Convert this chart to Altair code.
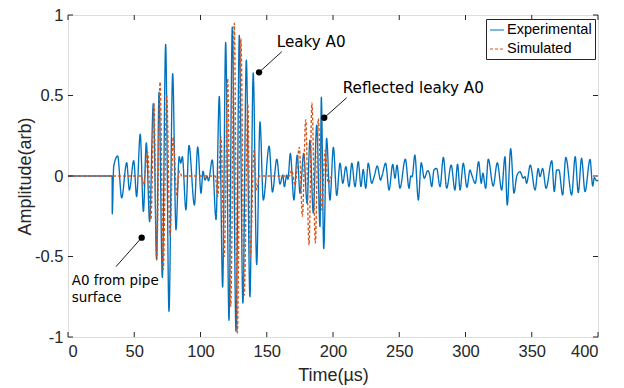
import altair as alt
import pandas as pd

# ---------------- data ----------------
exp_t = [0, 33.3, 33.4, 34.5, 37.5, 40.5, 44.3, 46.3, 49.6, 51.8, 54.5, 56.9, 59.1, 61.6,
         64.4, 66.9, 68.7, 71.2, 73.7, 76.2, 79.0, 81.5, 83.9, 85.1, 86.3, 89.0, 91.3,
         95.4, 97.9, 100.4, 101.9, 103.4, 104.9, 106.0, 108.9, 111.7, 114.2, 116.7, 119.0,
         121.5, 124.0, 126.8, 129.3, 132.0, 134.6, 137.3, 139.8, 142.4, 144.9, 147.4,
         151.8, 154.3, 157.6, 160.0, 162.1, 163.3, 165.1, 166.0, 167.8, 170.5, 173.0,
         175.1, 177.9, 180.4, 182.6, 185.1, 187.7, 190.2, 191.2, 193.0, 195.2, 197.7,
         200.3, 202.8, 205.3, 207.4, 209.7, 212.1, 214.2, 216.6, 219.1, 221.1, 222.8,
         224.7, 226.6, 229.2, 231.2, 233.4, 235.9, 237.0, 239.7, 242.3, 245.1, 246.8,
         248.3, 250.5, 254.6, 257.4, 258.7, 259.7, 261.8, 264.4, 266.6, 268.9, 271.5,
         272.8, 274.5, 276.2, 278.2, 280.8, 283.3, 285.8, 289.2, 292.0, 294.0, 295.9,
         298.3, 301.1, 303.4, 304.6, 307.4, 309.9, 311.9, 313.1, 315.2, 317.2, 320.9,
         324.0, 327.3, 329.8, 331.5, 334.1, 336.6, 338.7, 341.1, 343.6, 344.9, 346.1,
         348.9, 352.5, 354.9, 356.2, 358.2, 360.8, 365.1, 367.0, 368.8, 370.5, 373.3,
         375.7, 380.1, 382.8, 385.1, 387.6, 390.2, 394.0, 396.0, 397.2, 399.0, 400.0]
exp_a = [0, 0, -0.235, 0.06, 0.124, -0.136, 0.083, -0.087, 0.095, -0.128, 0.26, -0.22,
         0.206, -0.283, 0.45, -0.52, 0.52, -0.63, 0.817, -0.84, 0.636, -0.334, 0.12, 0.08,
         0.12, -0.21, 0.19, -0.18, 0.18, -0.107, 0.03, -0.025, 0.0, -0.03, 0.10, -0.27,
         0.495, -0.69, 0.83, -0.896, 0.925, -0.964, 0.873, -0.79, 0.72, -0.75, 0.64, -0.55,
         0.336, -0.149, 0.185, -0.10, 0.105, -0.05, 0.006, -0.066, 0.006, -0.02, 0.14,
         -0.149, 0.13, -0.107, 0.14, -0.169, 0.223, -0.23, 0.316, -0.314, 0.49, -0.45,
         0.233, -0.15, 0.178, -0.12, 0.079, -0.045, 0.058, -0.066, 0.079, -0.066, 0.089,
         -0.066, 0.041, -0.076, 0.079, -0.045, 0.0, 0.062, -0.025, 0.0, 0.079, -0.087,
         0.072, -0.014, 0.068, -0.076, 0.105, -0.076, 0.0, -0.005, 0.13, -0.149, 0.082,
         -0.014, 0.033, 0.015, -0.066, 0.037, 0.047, -0.066, 0.116, -0.076, 0.068, -0.087,
         0.074, -0.087, 0.079, -0.07, 0.037, 0.01, -0.045, 0.089, -0.045, 0.017, -0.076,
         0.105, -0.062, 0.082, -0.087, 0.12, -0.18, 0.17, -0.107, 0.0, 0.027, -0.014,
         -0.004, -0.045, 0.068, -0.087, 0.047, -0.004, 0.047, -0.076, 0.095, -0.097, 0.037,
         0.037, -0.118, 0.116, -0.118, 0.12, -0.103, 0.11, -0.097, 0.103, -0.062, -0.01,
         -0.03, -0.025]

sim_t = [0, 55.5, 56.9, 60.1, 62.6, 64.9, 66.9, 69.5, 71.9, 74.5, 77.0, 79.4, 82.1, 84.1,
         85.9, 111.1, 113.0, 115.5, 117.9, 120.5, 122.8, 125.5, 127.8, 130.5, 133.0, 135.7,
         137.6, 140.4, 142.4, 144.3, 167.0, 168.8, 171.3, 174.6, 176.9, 179.4, 181.9, 184.1,
         186.7, 188.9, 191.5, 194.0, 196.4, 199.0, 200.7]
sim_a = [0, 0, -0.056, 0.15, -0.27, 0.45, -0.52, 0.584, -0.58, 0.50, -0.37, 0.243, -0.12,
         0.03, 0, 0, -0.128, 0.243, -0.5, 0.605, -0.81, 0.95, -0.975, 0.853, -0.74, 0.45,
         -0.5, 0.16, -0.087, 0, 0, 0.036, -0.056, 0.178, -0.25, 0.35, -0.43, 0.454, -0.417,
         0.357, -0.21, 0.16, -0.045, 0, 0]

series_names = ["Experimental", "Simulated"]
series_colors = ["#0072BD", "#D95319"]

x_ticks = [0, 50, 100, 150, 200, 250, 300, 350, 400]
y_ticks = [-1, -0.5, 0, 0.5, 1]

label_text = ["Leaky A0", "Reflected leaky A0", "A0 from pipe", "surface"]
label_t = [157.5, 207.3, 2.8, 2.8]
label_a = [0.832, 0.545, -0.655, -0.757]
label_size = [15.2, 15.2, 13.5, 13.5]

dot_t = [144.2, 193.4, 55.6]
dot_a = [0.644, 0.362, -0.383]
lead_t2 = [161.3, 210.3, 36.2]
lead_a2 = [0.772, 0.486, -0.563]

# ---------------- build tables ----------------
df = pd.concat([
    pd.DataFrame({"t": exp_t, "a": exp_a, "series": series_names[0]}),
    pd.DataFrame({"t": sim_t, "a": sim_a, "series": series_names[1]}),
], ignore_index=True)

W, H = 530, 322
FONT = "Liberation Sans"
AX = "#262626"

xs = alt.Scale(domain=[0, 400], nice=False, zero=False)
ys = alt.Scale(domain=[-1, 1], nice=False, zero=False)

X = alt.X("t:Q", scale=xs, axis=alt.Axis(
    title="Time(µs)", values=x_ticks, grid=False, ticks=False, domain=False,
    labelFont=FONT, labelFontSize=16.5, labelColor=AX, labelPadding=6,
    titleFont=FONT, titleFontSize=18, titleFontWeight="normal", titleColor=AX,
    titlePadding=7, labelExpr="datum.value"))
Y = alt.Y("a:Q", scale=ys, axis=alt.Axis(
    title="Amplitude(arb)", values=y_ticks, grid=False, ticks=False, domain=False,
    labelFont=FONT, labelFontSize=16.5, labelColor=AX, labelPadding=5,
    titleFont=FONT, titleFontSize=18, titleFontWeight="normal", titleColor=AX,
    titlePadding=0, labelExpr="datum.value"))

lines = alt.Chart(df).mark_line(strokeWidth=1.35, interpolate="monotone").encode(
    x=X, y=Y,
    color=alt.Color("series:N", scale=alt.Scale(domain=series_names, range=series_colors),
                    legend=alt.Legend(title=None, orient="none", legendX=418, legendY=4,
                                      strokeColor=AX, fillColor="white", padding=3,
                                      symbolType="stroke", symbolSize=196,
                                      symbolStrokeWidth=1.2, labelFont=FONT,
                                      labelFontSize=14.5, labelColor="black",
                                      labelOffset=2, rowPadding=4)),
    strokeDash=alt.StrokeDash("series:N",
                              scale=alt.Scale(domain=series_names, range=[[1, 0], [3, 2]]),
                              legend=alt.Legend(title=None, orient="none", legendX=418,
                                                legendY=4)),
    order=alt.Order("t:Q"),
)

lab_df = pd.DataFrame({"t": label_t, "a": label_a, "text": label_text, "size": label_size})
labels = alt.Chart(lab_df).mark_text(align="left", baseline="middle", font="DejaVu Sans",
                                     color="black").encode(
    x=X, y=Y,
    text="text:N",
    size=alt.Size("size:Q", scale=None, legend=None),
)

lead_df = pd.DataFrame({"t": dot_t, "a": dot_a, "t2": lead_t2, "a2": lead_a2})
leads = alt.Chart(lead_df).mark_rule(color="black", strokeWidth=0.9).encode(
    x=X, y=Y, x2="t2:Q", y2="a2:Q")
dots = alt.Chart(lead_df).mark_point(filled=True, color="black", size=40, opacity=1).encode(
    x=X, y=Y)

xt = pd.DataFrame({"t": x_ticks})
yt = pd.DataFrame({"a": y_ticks})
tick_bot = alt.Chart(xt).mark_rule(color=AX).encode(
    x=X, y=alt.value(H), y2=alt.value(H - 5))
tick_top = alt.Chart(xt).mark_rule(color=AX).encode(
    x=X, y=alt.value(0), y2=alt.value(5))
tick_left = alt.Chart(yt).mark_rule(color=AX).encode(
    y=Y, x=alt.value(0), x2=alt.value(5))
tick_right = alt.Chart(yt).mark_rule(color=AX).encode(
    y=Y, x=alt.value(W), x2=alt.value(W - 5))

chart = alt.layer(lines, tick_bot, tick_top, tick_left, tick_right, leads, dots, labels).properties(
    width=W, height=H,
    padding={"left": 68, "top": 15, "right": 26, "bottom": 51},
    autosize=alt.AutoSizeParams(type="none"),
).configure_view(stroke=AX, strokeWidth=1).configure(background="white")

chart.save("out.html", embed_options={"renderer": "svg", "actions": False})
